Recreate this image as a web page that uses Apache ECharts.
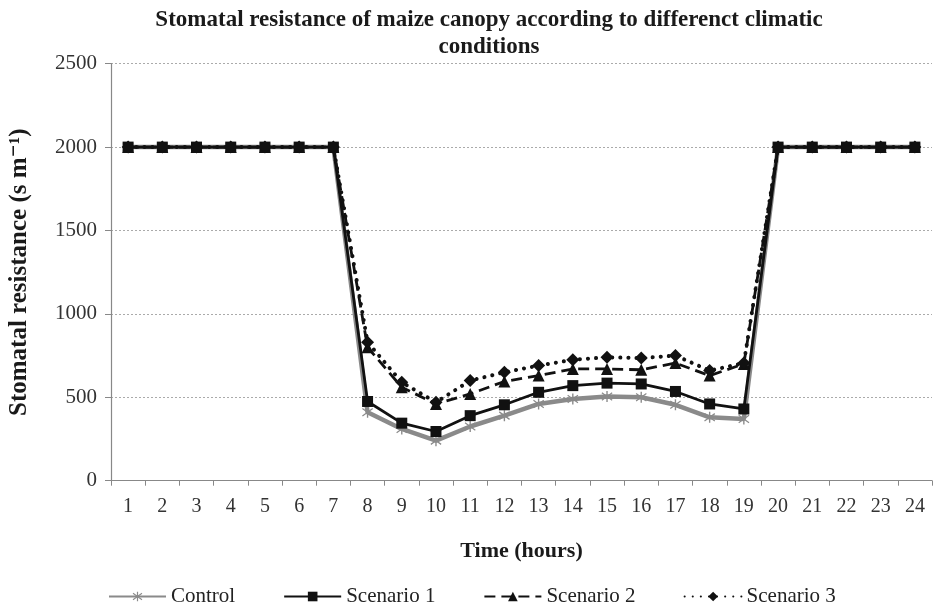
<!DOCTYPE html>
<html>
<head>
<meta charset="utf-8">
<script src="https://cdn.jsdelivr.net/npm/echarts@6/dist/echarts.min.js"></script>
<style>
  html, body { margin: 0; padding: 0; background: #fff; }
  #chart { width: 936px; height: 607px; }
</style>
</head>
<body>
<div id="chart"></div>
<script>
// Hours of the day
const hours = ['1','2','3','4','5','6','7','8','9','10','11','12','13','14','15','16','17','18','19','20','21','22','23','24'];

// Stomatal resistance (s m-1) per scenario
const control   = [2000,2000,2000,2000,2000,2000,2000, 410,310,240,325,390,460,490,505,500,455,380,370, 2000,2000,2000,2000,2000];
const scenario1 = [2000,2000,2000,2000,2000,2000,2000, 475,345,295,390,455,530,570,585,580,535,460,430, 2000,2000,2000,2000,2000];
const scenario2 = [2000,2000,2000,2000,2000,2000,2000, 800,560,460,520,595,630,670,670,665,705,630,700, 2000,2000,2000,2000,2000];
const scenario3 = [2000,2000,2000,2000,2000,2000,2000, 830,590,470,600,650,690,725,740,735,750,660,705, 2000,2000,2000,2000,2000];

// Y axis ticks
const yTicks = [0, 500, 1000, 1500, 2000, 2500];

const serif = '"Liberation Serif", "DejaVu Serif", serif';

// Asterisk marker built from three crossing bars
const asterisk = 'path://M4.4,0 L5.6,0 L5.6,10 L4.4,10 Z M0.2,2.1 L0.8,1.1 L9.8,7.9 L9.2,8.9 Z M0.2,7.9 L9.2,1.1 L9.8,2.1 L0.8,8.9 Z';

const chart = echarts.init(document.getElementById('chart'));
chart.setOption({
  animation: false,
  backgroundColor: '#fff',
  title: {
    text: 'Stomatal resistance of maize canopy according to differenct climatic\nconditions',
    left: 484,
    textAlign: 'center',
    top: 2,
    textStyle: { fontFamily: serif, fontWeight: 'bold', fontSize: 23, color: '#1a1a1a', lineHeight: 27 }
  },
  grid: { left: 111, right: 4, top: 63.7, bottom: 126.3, containLabel: false, outerBoundsMode: 'none' },
  legend: {
    top: 581,
    left: 103,
    itemWidth: 57,
    itemHeight: 12,
    itemGap: 48,
    textStyle: { fontFamily: serif, fontSize: 21, color: '#222' },
    data: ['Control', 'Scenario 1', 'Scenario 2', 'Scenario 3']
  },
  xAxis: {
    type: 'category',
    data: hours,
    boundaryGap: true,
    name: 'Time (hours)',
    nameLocation: 'middle',
    nameGap: 60,
    nameTextStyle: { fontFamily: serif, fontWeight: 'bold', fontSize: 22, color: '#1a1a1a' },
    axisLine: { lineStyle: { color: '#888', width: 1.2 } },
    axisTick: { show: true, length: 5, lineStyle: { color: '#888' } },
    axisLabel: { fontFamily: serif, fontSize: 20, color: '#333', margin: 16 }
  },
  yAxis: {
    type: 'value',
    min: 0,
    max: 2500,
    interval: 500,
    name: 'Stomatal resistance (s m\u207B\u00B9)',
    nameLocation: 'middle',
    nameGap: 79,
    nameTextStyle: { fontFamily: serif, fontWeight: 'bold', fontSize: 25, color: '#1a1a1a' },
    axisLine: { show: true, lineStyle: { color: '#888', width: 1.2 } },
    axisTick: { show: true, length: 6, lineStyle: { color: '#888' } },
    axisLabel: {
      fontFamily: serif, fontSize: 21, color: '#333', margin: 14,
      formatter: v => yTicks.includes(v) ? String(v) : ''
    },
    splitLine: { lineStyle: { color: '#aaa', type: [2, 2], width: 1 } }
  },
  series: [
    {
      name: 'Control', type: 'line', data: control,
      symbol: asterisk, symbolSize: 11,
      itemStyle: { color: '#8a8a8a' },
      lineStyle: { color: '#8a8a8a', width: 4.5 },
      z: 2
    },
    {
      name: 'Scenario 1', type: 'line', data: scenario1,
      symbol: 'rect', symbolSize: 11,
      itemStyle: { color: '#111' },
      lineStyle: { color: '#111', width: 2.8 },
      z: 3
    },
    {
      name: 'Scenario 2', type: 'line', data: scenario2,
      symbol: 'triangle', symbolSize: 12,
      itemStyle: { color: '#111' },
      lineStyle: { color: '#111', width: 2.8, type: [11, 6] },
      z: 4
    },
    {
      name: 'Scenario 3', type: 'line', data: scenario3,
      symbol: 'diamond', symbolSize: 13,
      itemStyle: { color: '#111' },
      lineStyle: { color: '#111', width: 4, type: [0.1, 8], cap: 'round' },
      z: 5
    }
  ]
});
</script>
</body>
</html>
